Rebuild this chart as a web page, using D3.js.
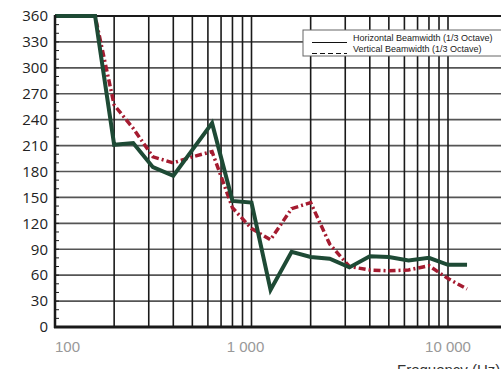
<!DOCTYPE html>
<html>
<head>
<meta charset="utf-8">
<script src="https://cdn.jsdelivr.net/npm/d3@7"></script>
<style>
  body { margin: 0; background: #fff; }
  svg { display: block; }
</style>
</head>
<body>
<div id="chart"></div>
<script>
// 1/3 octave centre frequencies (Hz)
const freqs = [100, 125, 160, 200, 250, 315, 400, 500, 630, 800, 1000, 1250,
               1600, 2000, 2500, 3150, 4000, 5000, 6300, 8000, 10000, 12500];
// beamwidth in degrees
const horizontal = [360, 360, 360, 211, 213, 185, 175, 205, 236, 146, 144, 43,
                    87, 81, 79, 69, 82, 81, 77, 80, 72, 72];
const vertical = [360, 360, 360, 257, 230, 197, 190, 197, 203, 138, 114, 101,
                  137, 144, 96, 70, 66, 65, 66, 71, 56, 44];
const yTicks = d3.range(0, 361, 30);
const xGrid = [100, 200, 300, 400, 500, 600, 700, 800, 900,
               1000, 2000, 3000, 4000, 5000, 6000, 7000, 8000, 9000, 10000];
const xLabels = [100, 1000, 10000];
const legendLabels = ["Horizontal Beamwidth (1/3 Octave)", "Vertical Beamwidth (1/3 Octave)"];

const W = 501, H = 369;
const mLeft = 55, mTop = 16, mBottom = 327;
const decade = 196.5;

const x = d3.scaleLog()
    .domain([100, 20000])
    .range([mLeft, mLeft + decade * Math.log10(200)]);
const y = d3.scaleLinear()
    .domain([0, 360])
    .range([mBottom, mTop]);

const svg = d3.select("#chart").append("svg")
    .attr("width", W)
    .attr("height", H);

// horizontal grid
svg.append("g").selectAll("line")
    .data(yTicks.filter(d => d > 0 && d < 360))
  .join("line")
    .attr("x1", mLeft).attr("x2", W)
    .attr("y1", d => y(d)).attr("y2", d => y(d))
    .attr("stroke", "#555")
    .attr("stroke-width", 1.6);

// vertical grid
svg.append("g").selectAll("line")
    .data(xGrid.slice(1))
  .join("line")
    .attr("x1", d => x(d)).attr("x2", d => x(d))
    .attr("y1", mTop).attr("y2", mBottom)
    .attr("stroke", "#1a1a1a")
    .attr("stroke-width", 1.6);

// top border
svg.append("line")
    .attr("x1", mLeft).attr("x2", W)
    .attr("y1", mTop).attr("y2", mTop)
    .attr("stroke", "#1a1a1a")
    .attr("stroke-width", 2);

// minor ticks every 10 deg on the left axis
svg.append("g").selectAll("line")
    .data(d3.range(10, 360, 10))
  .join("line")
    .attr("x1", mLeft).attr("x2", mLeft + 4)
    .attr("y1", d => y(d)).attr("y2", d => y(d))
    .attr("stroke", "#1a1a1a")
    .attr("stroke-width", 1);

const line = d3.line()
    .x((d, i) => x(freqs[i]))
    .y(d => y(d));

svg.append("path")
    .datum(vertical)
    .attr("fill", "none")
    .attr("stroke", "#a51b30")
    .attr("stroke-width", 3.5)
    .attr("stroke-dasharray", "7,3,2,3")
    .attr("d", line);

svg.append("path")
    .datum(horizontal)
    .attr("fill", "none")
    .attr("stroke", "#1e4a35")
    .attr("stroke-width", 4)
    .attr("stroke-linejoin", "miter")
    .attr("d", line);

// axis lines
svg.append("line")
    .attr("x1", mLeft).attr("x2", mLeft)
    .attr("y1", mTop - 1).attr("y2", mBottom + 1)
    .attr("stroke", "#1a1a1a")
    .attr("stroke-width", 2.5);
svg.append("line")
    .attr("x1", mLeft - 1).attr("x2", W)
    .attr("y1", mBottom).attr("y2", mBottom)
    .attr("stroke", "#1a1a1a")
    .attr("stroke-width", 3);

// y labels
const yAxis = d3.axisLeft(y).tickValues(yTicks).tickSize(0).tickPadding(7);
svg.append("g")
    .attr("transform", `translate(${mLeft},0)`)
    .call(yAxis)
    .call(g => g.select(".domain").remove())
    .call(g => g.selectAll(".tick text")
        .attr("font-family", "'Open Sans', sans-serif")
        .attr("font-size", 15)
        .attr("fill", "#222"));

// x labels
const fmt = d => d3.format(",")(d).replace(/,/g, " ");
svg.append("g").selectAll("text")
    .data(xLabels)
  .join("text")
    .attr("x", d => x(d))
    .attr("y", 352)
    .attr("text-anchor", (d, i) => i === 0 ? "start" : "middle")
    .attr("dx", (d, i) => i === 1 ? -6 : 0)
    .attr("font-family", "'Liberation Sans Narrow', 'Liberation Sans', sans-serif")
    .attr("font-size", 15)
    .attr("fill", "#999")
    .text(fmt);

svg.append("text")
    .attr("x", 397)
    .attr("y", 375)
    .attr("font-family", "'Liberation Sans Narrow', 'Liberation Sans', sans-serif")
    .attr("font-size", 15)
    .attr("fill", "#333")
    .text("Frequency (Hz)");

// legend
const lg = svg.append("g").attr("transform", "translate(303,30)");
lg.append("rect")
    .attr("width", 210).attr("height", 26)
    .attr("fill", "#fff")
    .attr("stroke", "#666")
    .attr("stroke-width", 1);
lg.selectAll("line")
    .data(legendLabels)
  .join("line")
    .attr("x1", 9).attr("x2", 44)
    .attr("y1", (d, i) => 12.5 + i * 11).attr("y2", (d, i) => 12.5 + i * 11)
    .attr("stroke", "#111")
    .attr("stroke-width", 1)
    .attr("stroke-dasharray", (d, i) => i ? "5,3" : null);
lg.selectAll("text")
    .data(legendLabels)
  .join("text")
    .attr("x", 50)
    .attr("y", (d, i) => 10.5 + i * 11)
    .attr("font-family", "'Liberation Sans', Arial, sans-serif")
    .attr("font-size", 9)
    .attr("fill", "#222")
    .text(d => d);
</script>
</body>
</html>
